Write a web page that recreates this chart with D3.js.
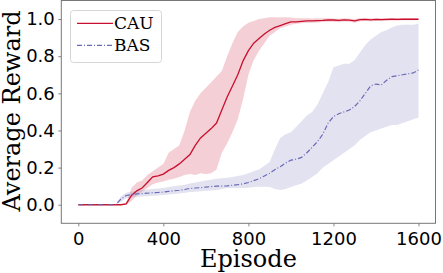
<!DOCTYPE html>
<html>
<head>
	<meta charset="utf-8">
	<title>Average Reward</title>
	<style>
		html, body { margin: 0; padding: 0; background: #fff; }
		svg { display: block; }
	</style>
</head>
<body>
<script src="https://cdn.jsdelivr.net/npm/d3@7/dist/d3.min.js"></script>
<script>
	// episodes (every 25)
	const episodes = d3.range(0, 1601, 25)

	// CAU: mean and band
	const cauMean = [
		0, 0, 0, 0, 0, 0, 0, 0, 0, 0.005,
		0.05, 0.075, 0.09, 0.12, 0.15, 0.155, 0.165, 0.185, 0.2, 0.22,
		0.245, 0.27, 0.32, 0.36, 0.385, 0.41, 0.44, 0.51, 0.58, 0.64,
		0.7, 0.775, 0.83, 0.87, 0.895, 0.92, 0.94, 0.955, 0.965, 0.975,
		0.985, 0.985, 0.988, 0.99, 0.99, 0.992, 0.993, 0.995, 0.995, 0.993,
		0.996, 0.994, 0.99, 0.997, 0.998, 0.996, 0.998, 0.997, 0.998, 0.999,
		0.998, 0.999, 0.999, 0.999, 0.999
	]
	const cauLow = [
		0, 0, 0, 0, 0, 0, 0, 0, 0, 0,
		0.02, 0.05, 0.07, 0.09, 0.11, 0.12, 0.125, 0.135, 0.14, 0.15,
		0.16, 0.165, 0.16, 0.17, 0.165, 0.17, 0.19, 0.28, 0.33, 0.39,
		0.46, 0.57, 0.7, 0.78, 0.83, 0.87, 0.91, 0.93, 0.95, 0.96,
		0.97, 0.975, 0.978, 0.98, 0.98, 0.982, 0.984, 0.986, 0.985, 0.983,
		0.987, 0.985, 0.98, 0.988, 0.99, 0.988, 0.99, 0.989, 0.99, 0.992,
		0.991, 0.993, 0.993, 0.994, 0.994
	]
	const cauHigh = [
		0, 0, 0, 0, 0, 0, 0, 0, 0, 0.01,
		0.09, 0.12, 0.13, 0.16, 0.18, 0.2, 0.22, 0.28, 0.3, 0.32,
		0.4, 0.5, 0.56, 0.6, 0.63, 0.66, 0.69, 0.72, 0.8, 0.87,
		0.93, 0.96, 0.98, 0.99, 1.0, 1.005, 1.01, 1.01, 1.008, 1.01,
		1.008, 1.005, 1.004, 1.004, 1.003, 1.004, 1.005, 1.004, 1.003, 1.002,
		1.004, 1.003, 1.0, 1.005, 1.005, 1.004, 1.005, 1.004, 1.005, 1.005,
		1.004, 1.005, 1.005, 1.004, 1.004
	]

	// BAS: mean and band
	const basMean = [
		0, 0, 0, 0, 0, 0, 0, 0, 0.03, 0.05,
		0.055, 0.058, 0.06, 0.062, 0.065, 0.066, 0.068, 0.072, 0.075, 0.078,
		0.082, 0.088, 0.09, 0.092, 0.095, 0.098, 0.1, 0.1, 0.102, 0.105,
		0.108, 0.112, 0.12, 0.13, 0.14, 0.155, 0.17, 0.19, 0.205, 0.225,
		0.24, 0.245, 0.255, 0.28, 0.31, 0.34, 0.38, 0.44, 0.475, 0.49,
		0.5, 0.51, 0.53, 0.56, 0.6, 0.64, 0.65, 0.645, 0.67, 0.69,
		0.695, 0.7, 0.705, 0.71, 0.725
	]
	const basLow = [
		0, 0, 0, 0, 0, 0, 0, 0, 0.015, 0.035,
		0.04, 0.042, 0.044, 0.046, 0.048, 0.05, 0.052, 0.055, 0.058, 0.06,
		0.064, 0.068, 0.07, 0.072, 0.075, 0.077, 0.08, 0.085, 0.09, 0.09,
		0.09, 0.09, 0.092, 0.095, 0.097, 0.097, 0.095, 0.085, 0.08, 0.085,
		0.095, 0.105, 0.115, 0.13, 0.15, 0.17, 0.2, 0.22, 0.24, 0.26,
		0.28, 0.3, 0.32, 0.35, 0.37, 0.39, 0.4, 0.41, 0.42, 0.43,
		0.43, 0.44, 0.45, 0.46, 0.47
	]
	const basHigh = [
		0, 0, 0, 0, 0, 0, 0, 0, 0.045, 0.065,
		0.07, 0.075, 0.08, 0.082, 0.085, 0.087, 0.09, 0.095, 0.1, 0.103,
		0.108, 0.115, 0.12, 0.125, 0.13, 0.135, 0.14, 0.142, 0.145, 0.15,
		0.155, 0.16, 0.17, 0.18, 0.19, 0.21, 0.23, 0.3, 0.36, 0.38,
		0.39, 0.42, 0.45, 0.48, 0.5, 0.54, 0.6, 0.66, 0.74, 0.75,
		0.76, 0.76, 0.78, 0.82, 0.86, 0.89, 0.91, 0.93, 0.94, 0.955,
		0.965, 0.97, 0.97, 0.97, 0.975
	]

	const xTicks = [0, 400, 800, 1200, 1600]
	const yTicks = [0, 0.2, 0.4, 0.6, 0.8, 1.0]
	const seriesNames = ["CAU", "BAS"]

	const width = 443, height = 273
	const box = { left: 61.3, right: 435.5, top: 0.5, bottom: 223.3 }

	const svg = d3.select("body").append("svg")
		.attr("width", width)
		.attr("height", height)

	// 比例尺
	const x = d3.scaleLinear().domain([-80, 1680]).range([box.left, box.right])
	const y = d3.scaleLinear().domain([-0.1, 1.1]).range([box.bottom, box.top])

	const rows = (mean, lo, hi) => episodes.map((e, i) => ({ e, m: mean[i], lo: lo[i], hi: hi[i] }))

	const area = d3.area().x(d => x(d.e)).y0(d => y(d.lo)).y1(d => y(d.hi))
	const line = d3.line().x(d => x(d.e)).y(d => y(d.m))

	const series = [
		{ name: seriesNames[0], data: rows(cauMean, cauLow, cauHigh), color: "#c8102e", fill: "#c8102e", dash: null, w: 1.3 },
		{ name: seriesNames[1], data: rows(basMean, basLow, basHigh), color: "#6a6ab8", fill: "#6e6eb4", dash: "5,2,1,2", w: 1.2 }
	]

	// bands
	series.forEach(s => {
		svg.append("path")
			.attr("d", area(s.data))
			.attr("fill", s.fill)
			.attr("fill-opacity", 0.2)
	})
	// mean lines
	series.forEach(s => {
		svg.append("path")
			.attr("d", line(s.data))
			.attr("fill", "none")
			.attr("stroke", s.color)
			.attr("stroke-width", s.w)
			.attr("stroke-dasharray", s.dash)
	})

	// axes
	const styleAxis = g => {
		g.select(".domain").remove()
		g.selectAll(".tick line").attr("stroke", "#777").attr("stroke-width", 0.9)
		g.selectAll("text")
			.attr("font-family", "DejaVu Sans")
			.attr("font-size", 18)
			.attr("fill", "#000")
	}
	svg.append("g")
		.attr("transform", `translate(0,${box.bottom})`)
		.call(d3.axisBottom(x).tickValues(xTicks).tickFormat(d3.format("d")).tickSize(3).tickPadding(5.5))
		.call(styleAxis)
	svg.append("g")
		.attr("transform", `translate(${box.left},0)`)
		.call(d3.axisLeft(y).tickValues(yTicks).tickFormat(d3.format(".1f")).tickSize(3).tickPadding(3.5))
		.call(styleAxis)

	// frame
	svg.append("rect")
		.attr("x", box.left).attr("y", box.top)
		.attr("width", box.right - box.left).attr("height", box.bottom - box.top)
		.attr("fill", "none")
		.attr("stroke", "#777")
		.attr("stroke-width", 1)

	// axis titles
	svg.append("text")
		.attr("x", (box.left + box.right) / 2).attr("y", 266.5)
		.attr("text-anchor", "middle")
		.attr("font-family", "DejaVu Serif")
		.attr("font-size", 24)
		.text("Episode")
	svg.append("text")
		.attr("transform", "translate(19.5,111) rotate(-90)")
		.attr("text-anchor", "middle")
		.attr("font-family", "DejaVu Serif")
		.attr("font-size", 24)
		.text("Average Reward")

	// legend
	const legend = svg.append("g")
	legend.append("rect")
		.attr("x", 70.5).attr("y", 10.5)
		.attr("width", 91).attr("height", 52)
		.attr("rx", 3)
		.attr("fill", "#fff").attr("fill-opacity", 0.8)
		.attr("stroke", "#d6d6d6")
	series.forEach((s, i) => {
		const ly = 23.3 + i * 22
		legend.append("line")
			.attr("x1", 77).attr("x2", 113)
			.attr("y1", ly).attr("y2", ly)
			.attr("stroke", s.color)
			.attr("stroke-width", s.w)
			.attr("stroke-dasharray", s.dash)
		legend.append("text")
			.attr("x", 114).attr("y", ly + 6)
			.attr("font-family", "DejaVu Serif")
			.attr("font-size", 17)
			.text(s.name)
	})
</script>
</body>
</html>
